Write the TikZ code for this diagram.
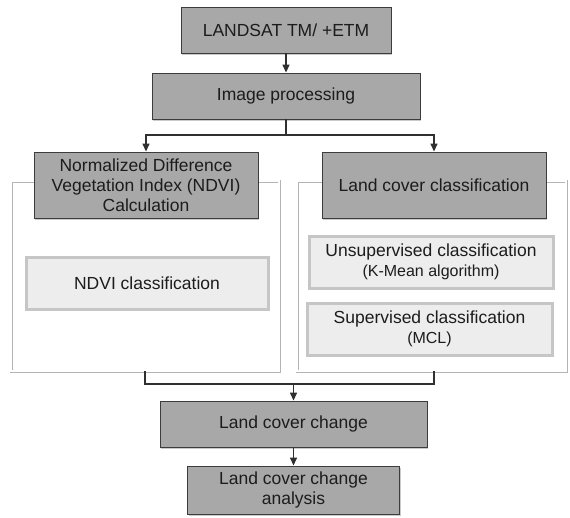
\documentclass[tikz,border=0pt]{standalone}
\usepackage{fontspec}
\setmainfont{Liberation Sans}
\usetikzlibrary{arrows.meta,shadows,positioning}
\definecolor{darkfill}{HTML}{A8A8A8}
\definecolor{darkedge}{HTML}{3C3C3C}
\definecolor{lightfill}{HTML}{EDEDED}
\definecolor{lightedge}{HTML}{C6C6C6}
\definecolor{frameedge}{HTML}{B4B4B4}
\definecolor{txt}{HTML}{1C1C1C}
\definecolor{arrowc}{HTML}{303030}
\tikzset{
  darkbox/.style={draw=darkedge, line width=0.9pt, fill=darkfill, text=txt,
    inner sep=0pt, align=center, font=\fontsize{17.5}{20}\selectfont,
    drop shadow={shadow xshift=1.2pt, shadow yshift=-2pt, opacity=0.35, fill=black!60}},
  lightbox/.style={draw=lightedge, line width=3pt, fill=lightfill, text=txt,
    inner sep=0pt, align=center, font=\fontsize{17.5}{20}\selectfont},
  framebox/.style={draw=frameedge, double=white, double distance=1.4pt, line width=0.8pt},
  conn/.style={draw=arrowc, line width=1.4pt},
  arr/.style={conn, -{Triangle[length=8pt,width=7pt]}}
}
\newcommand{\subline}[1]{{\fontsize{16}{18}\selectfont #1}}
\begin{document}
\begin{tikzpicture}[x=1pt,y=-1pt]
\useasboundingbox (0,0) rectangle (570,517);
% frames
\draw[framebox] (11,181) rectangle (279,371);
\draw[framebox] (297,181) rectangle (566,371);
\coordinate (lf) at (145,371);
\coordinate (rf) at (434,371);
% boxes
\node[darkbox, minimum width=210pt, minimum height=46pt] (landsat) at (286,30) {LANDSAT TM/ +ETM};
\node[darkbox, minimum width=268pt, minimum height=46pt] (improc) at (286,96) {Image processing};
\node[darkbox, minimum width=224pt, minimum height=66pt] (ndvi) at (146,185) {Normalized Difference\\Vegetation Index (NDVI)\\Calculation};
\node[darkbox, minimum width=224pt, minimum height=66pt] (lcc) at (434,185) {Land cover classification};
\node[lightbox, minimum width=242pt, minimum height=52pt] (ndvicl) at (147,283) {NDVI classification};
\node[lightbox, minimum width=244pt, minimum height=52pt] (unsup) at (431,262) {Unsupervised classification\\\subline{(K-Mean algorithm)}};
\node[lightbox, minimum width=245pt, minimum height=52pt] (sup) at (429.5,329) {Supervised classification\\\subline{(MCL)}};
\node[darkbox, minimum width=267pt, minimum height=46pt] (lcchange) at (293.5,424) {Land cover change};
\node[darkbox, minimum width=212pt, minimum height=48pt] (analysis) at (293.5,490) {Land cover change\\analysis};
% connectors
\draw[arr] (landsat.south) -- (improc.north);
\coordinate (split) at (286,135);
\draw[conn] (improc.south) -- (split);
\draw[arr] (split) -| (ndvi.north);
\draw[arr] (split) -| (lcc.north);
\coordinate (merge) at (293.5,384);
\draw[conn] (lf) |- (merge);
\draw[conn] (rf) |- (merge);
\draw[arr] (merge) -- (lcchange.north);
\draw[arr] (lcchange.south) -- (analysis.north);
\end{tikzpicture}
\end{document}
